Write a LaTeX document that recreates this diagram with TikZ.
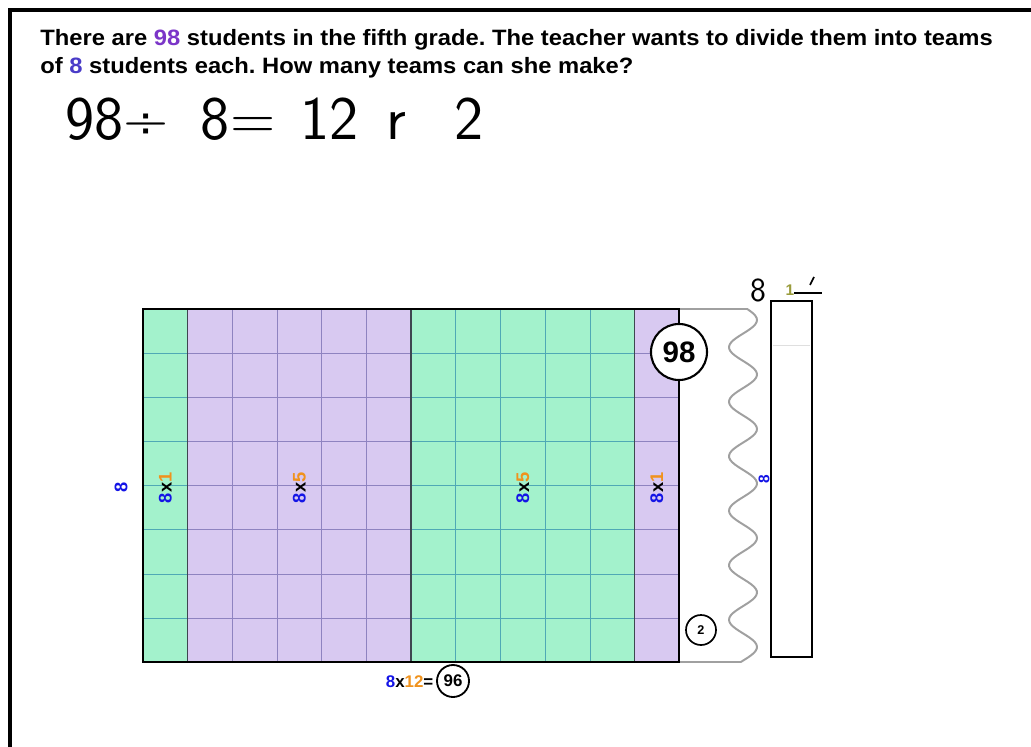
\documentclass[tikz,border=0pt]{standalone}
\usepackage{fontspec}
\setmainfont{Liberation Sans}
\definecolor{qpurple}{HTML}{7B35C8}
\definecolor{qblue}{HTML}{4A3CC8}
\definecolor{armint}{HTML}{A3F2CC}
\definecolor{arlav}{HTML}{D8C9F1}
\definecolor{gridteal}{HTML}{4FA9B5}
\definecolor{gridlav}{HTML}{8E83C0}
\definecolor{sepgray}{HTML}{3E4650}
\definecolor{fblue}{HTML}{1414E6}
\definecolor{forange}{HTML}{F0921C}
\definecolor{wavegray}{HTML}{A0A0A0}
\definecolor{pencil}{HTML}{9A9C3C}
\frenchspacing

\begin{document}
\begin{tikzpicture}[x=0.025cm,y=-0.025cm,font=\bfseries,
    partlabel/.style={rotate=90,font=\bfseries\fontsize{13}{13}\selectfont}]
  \useasboundingbox (0,0) rectangle (1031,747);

  % --- frame ---
  \draw[line width=3pt] (10,760) -- (10,10) -- (1040,10);

  % --- question ---
  \node[anchor=base west,inner sep=0pt,font=\bfseries\fontsize{15.8}{18}\selectfont] (q1) at (40,46)
        {\scalebox{1.07}[1]{There are \textcolor{qpurple}{98} students in the fifth grade. The teacher wants to divide them into teams}};
  \node[anchor=base west,inner sep=0pt,font=\bfseries\fontsize{15.8}{18}\selectfont] (q2) at (40,74)
        {\scalebox{1.07}[1]{of \textcolor{qblue}{8} students each. How many teams can she make?}};

  % --- handwritten equation ---
  \node[anchor=base west,inner sep=0pt,font=\sffamily\mdseries\fontsize{44}{44}\selectfont] (eq) at (65,140)
        {98÷\hspace{23pt}8=\hspace{18pt}12\hspace{20pt}r\hspace{34pt}2};

  % --- area model ---
  \begin{scope}[shift={(143,309)},x=1.11667cm,y=-1.103125cm]
    \fill[armint] (0,0) rectangle (1,8);
    \fill[arlav]  (1,0) rectangle (6,8);
    \fill[armint] (6,0) rectangle (11,8);
    \fill[arlav]  (11,0) rectangle (12,8);
    \foreach \r in {1,...,7} {
      \draw[gridteal] (0,\r) -- (1,\r);
      \draw[gridlav]  (1,\r) -- (6,\r);
      \draw[gridteal] (6,\r) -- (11,\r);
      \draw[gridlav]  (11,\r) -- (12,\r);
    }
    \foreach \c in {2,...,5} \draw[gridlav] (\c,0) -- (\c,8);
    \foreach \c in {7,...,10} \draw[gridteal] (\c,0) -- (\c,8);
    \foreach \c in {1,6,11} \draw[sepgray,line width=1.1pt] (\c,0) -- (\c,8);

    % --- part labels ---
    \node[partlabel] (p1)  at (0.5,4.05)  {\textcolor{fblue}{8}x\textcolor{forange}{1}};
    \node[partlabel] (p5a) at (3.5,4.05)  {\textcolor{fblue}{8}x\textcolor{forange}{5}};
    \node[partlabel] (p5b) at (8.5,4.05)  {\textcolor{fblue}{8}x\textcolor{forange}{5}};
    \node[partlabel] (p1b) at (11.5,4.05) {\textcolor{fblue}{8}x\textcolor{forange}{1}};
  \end{scope}

  % --- remainder wave ---
  \draw[wavegray,line width=1.4pt] (679,309) -- (747,309)
        -- plot[domain=309:662,samples=160] ({743+14*sin((\x-320)*6.6055+90)},\x)
        -- (679,662);
  \draw[line width=2pt] (143,309) rectangle (679,662);

  \node[partlabel,fblue] (side) at (121,487) {8};
  \node[partlabel,fblue,font=\bfseries\fontsize{11}{11}\selectfont] (wside) at (764,479) {8};

  % --- circled totals ---
  \node[circle,draw,fill=white,line width=1.5pt,minimum size=1.4cm,inner sep=0pt,
        font=\bfseries\fontsize{21}{21}\selectfont] (c98) at (679,352) {98};
  \node[circle,draw,fill=white,line width=1.2pt,minimum size=0.75cm,inner sep=0pt,
        font=\bfseries\fontsize{9}{9}\selectfont] (c2) at (701,630) {2};
  \node[anchor=east,inner sep=1pt,font=\bfseries\fontsize{12}{12}\selectfont] (prod) at (435,682)
        {\textcolor{fblue}{8}x\textcolor{forange}{12}=};
  \node[circle,draw,line width=1.3pt,minimum size=0.8cm,inner sep=0pt,
        font=\bfseries\fontsize{12}{12}\selectfont] (c96) at (453,681) {96};

  % --- quotient bar ---
  \draw[line width=2pt] (771,301) rectangle (812,657);
  \draw[gray!25] (773,345) -- (810,345);
  \node[font=\sffamily\mdseries\fontsize{24}{24}\selectfont] (h8) at (758,290) {8};
  \node[pencil,font=\bfseries\fontsize{11}{11}\selectfont] (h1) at (790,290) {1};
  \draw[line width=1.2pt] (794,293) -- (822,293);
  \draw[line width=1.2pt] (810,285) -- (814,277);

\end{tikzpicture}
\end{document}
